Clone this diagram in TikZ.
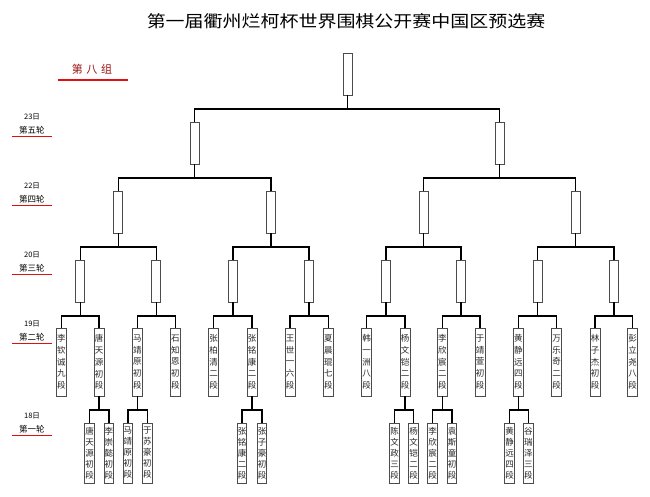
\documentclass[tikz,border=0pt]{standalone}
\usepackage{fontspec}
\setmainfont{Noto Sans CJK SC}
\usetikzlibrary{calc}
\definecolor{darkred}{HTML}{9A1010}
\definecolor{linered}{HTML}{E01010}
\tikzset{
 conn/.style={line width=1.5pt, black},
 emptybox/.style={draw=black!70, line width=0.7pt, fill=white, minimum width=9pt, minimum height=42pt, inner sep=0pt},
 namebox/.style={draw=black!70, line width=0.7pt, fill=white, minimum width=10pt, minimum height=68pt, inner sep=0pt, align=center, font=\fontsize{8.5}{11.75}\selectfont, text=black!85},
 nameboxa/.style={namebox, minimum width=9.5pt, minimum height=60pt, font=\fontsize{8.5}{11}\selectfont},
 daylbl/.style={font=\fontsize{7.5}{9}\selectfont},
 rndlbl/.style={font=\fontsize{8.5}{10}\selectfont},
 redline/.style={linered, line width=1pt},
}
\begin{document}
\begin{tikzpicture}[x=1pt,y=-1pt]
\useasboundingbox (0,0) rectangle (650,496);
% title
\node[xscale=1.15, font=\fontsize{16.5}{18}\selectfont] (title) at (346,21) {第一届衢州烂柯杯世界围棋公开赛中国区预选赛};
\node[text=darkred, font=\fontsize{11}{13}\selectfont] (grp) at (92,69) {第\,\,八\,\,组};
\coordinate (gl1) at (58,80); \coordinate (gl2) at (128,80);
\draw[linered, line width=1.2pt] (gl1) -- (gl2);
% side labels
\foreach \d/\r/\y/\n in {23日/第五轮/117/a, 22日/第四轮/186/b, 20日/第三轮/255/c, 19日/第二轮/324/d, 18日/第一轮/416/e}{
  \node[daylbl] (day\n) at (32,\y) {\d};
  \node[rndlbl] (rnd\n) at (32,\y+13) {\r};
  \coordinate (ls\n) at (12,\y+19.5); \coordinate (le\n) at (52,\y+19.5);
  \draw[redline] (ls\n) -- (le\n);
}
% final
\node[emptybox] (F) at (347.5,74) {};
% round 5
\node[emptybox] (E1) at (194.6,143) {};
\node[emptybox] (E2) at (499.6,143) {};
% round 4
\node[emptybox] (D1) at (118.3,212) {};
\node[emptybox] (D2) at (271,212) {};
\node[emptybox] (D3) at (423.5,212) {};
\node[emptybox] (D4) at (575.7,212) {};
% round 3
\node[emptybox] (C1) at (80.3,281) {};
\node[emptybox] (C2) at (156.3,281) {};
\node[emptybox] (C3) at (232.8,281) {};
\node[emptybox] (C4) at (309.2,281) {};
\node[emptybox] (C5) at (385.8,281) {};
\node[emptybox] (C6) at (461.2,281) {};
\node[emptybox] (C7) at (537.5,281) {};
\node[emptybox] (C8) at (613.8,281) {};
% round 2
\node[namebox] (B1) at (61.3,362) {李\\钦\\诚\\九\\段};
\node[namebox] (B2) at (99.2,362) {唐\\天\\源\\初\\段};
\node[namebox] (B3) at (137.3,362) {马\\靖\\原\\初\\段};
\node[namebox] (B4) at (175.3,362) {石\\知\\恩\\初\\段};
\node[namebox] (B5) at (213.7,362) {张\\柏\\清\\二\\段};
\node[namebox] (B6) at (252,362) {张\\铭\\康\\二\\段};
\node[namebox] (B7) at (290,362) {王\\世\\一\\六\\段};
\node[namebox] (B8) at (328.3,362) {夏\\晨\\琨\\七\\段};
\node[namebox] (B9) at (366.7,362) {韩\\一\\洲\\八\\段};
\node[namebox] (B10) at (405,362) {杨\\文\\铠\\二\\段};
\node[namebox] (B11) at (442.3,362) {李\\欣\\宸\\二\\段};
\node[namebox] (B12) at (480,362) {于\\靖\\萱\\初\\段};
\node[namebox] (B13) at (518.3,362) {黄\\静\\远\\四\\段};
\node[namebox] (B14) at (556.7,362) {万\\乐\\奇\\二\\段};
\node[namebox] (B15) at (595,362) {林\\子\\杰\\初\\段};
\node[namebox] (B16) at (632.7,362) {彭\\立\\尧\\八\\段};
% round 1
\node[nameboxa] (A1) at (89.5,453) {唐\\天\\源\\初\\段};
\node[nameboxa] (A2) at (108.8,453) {李\\崇\\懿\\初\\段};
\node[nameboxa] (A3) at (127.8,453) {马\\靖\\原\\初\\段};
\node[nameboxa] (A4) at (147.3,453) {于\\苏\\豪\\初\\段};
\node[nameboxa] (A5) at (242,453) {张\\铭\\康\\二\\段};
\node[nameboxa] (A6) at (262,453) {张\\子\\豪\\初\\段};
\node[nameboxa] (A7) at (394.5,453) {陈\\文\\政\\三\\段};
\node[nameboxa] (A8) at (413.5,453) {杨\\文\\铠\\二\\段};
\node[nameboxa] (A9) at (432.5,453) {李\\欣\\宸\\二\\段};
\node[nameboxa] (A10) at (452,453) {袁\\斯\\童\\初\\段};
\node[nameboxa] (A11) at (509.5,453) {黄\\静\\远\\四\\段};
\node[nameboxa] (A12) at (528.3,453) {谷\\瑞\\泽\\三\\段};
% connectors
\foreach \p/\a/\b in {F/E1/E2, E1/D1/D2, E2/D3/D4, D1/C1/C2, D2/C3/C4, D3/C5/C6, D4/C7/C8,
  C1/B1/B2, C2/B3/B4, C3/B5/B6, C4/B7/B8, C5/B9/B10, C6/B11/B12, C7/B13/B14, C8/B15/B16,
  B2/A1/A2, B3/A3/A4, B6/A5/A6, B10/A7/A8, B11/A9/A10, B13/A11/A12}{
  \coordinate (j\p) at ($(\p.south)+(0,13.5)$);
  \draw[conn] (\p.south) -- (j\p);
  \draw[conn] (\a.north) |- (j\p) -| (\b.north);
}
\end{tikzpicture}
\end{document}
